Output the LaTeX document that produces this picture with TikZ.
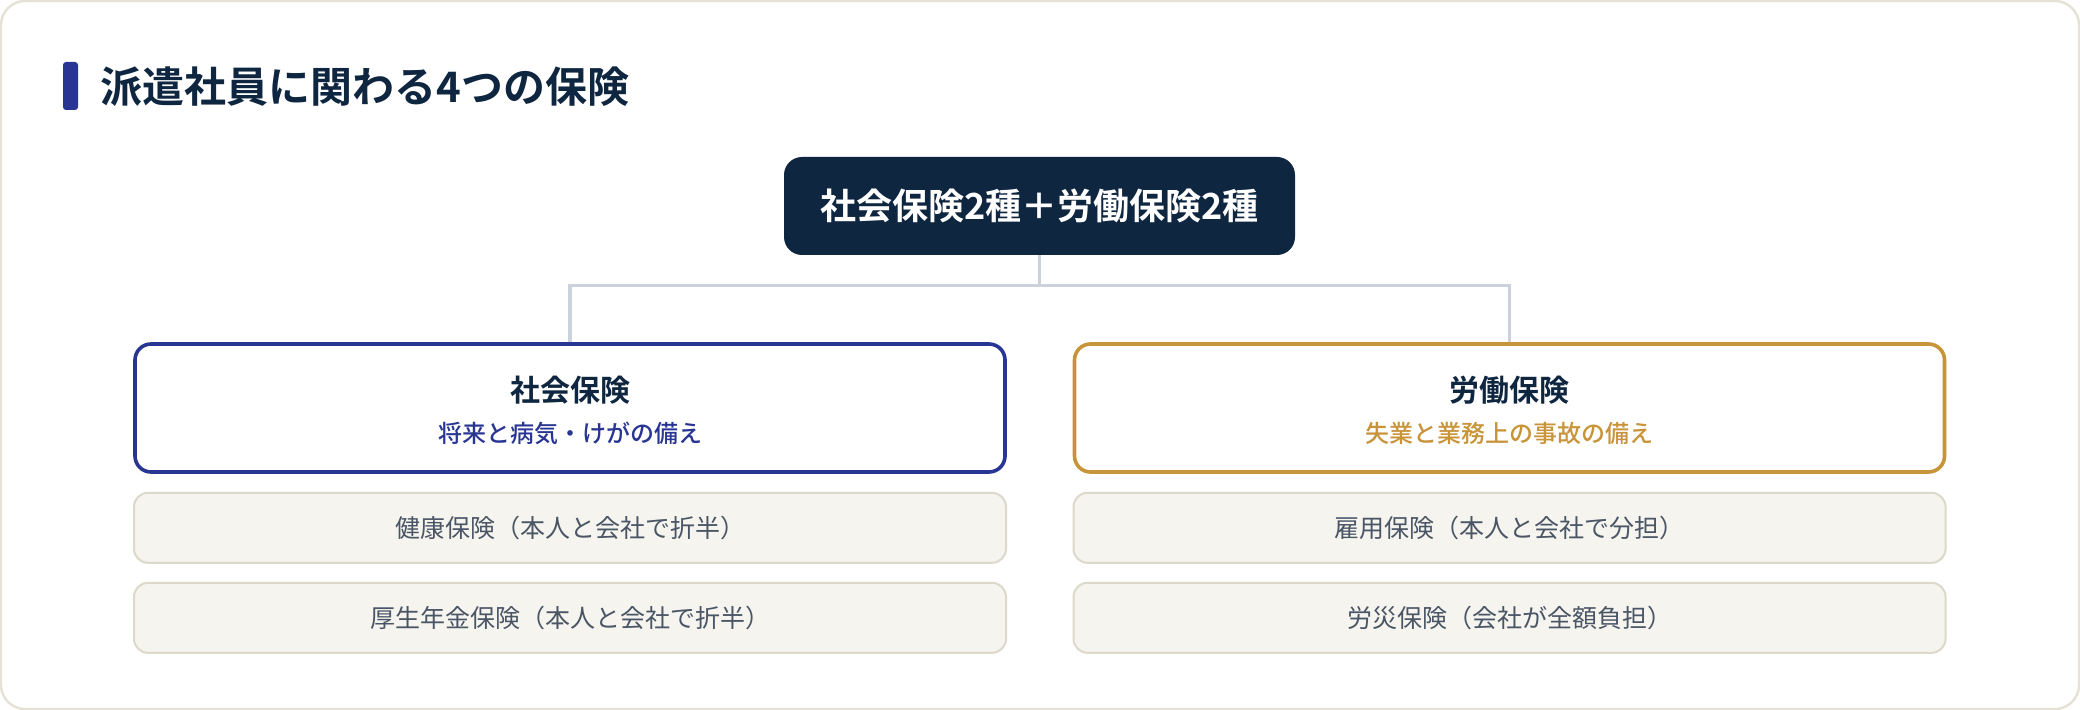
\documentclass[tikz,border=0pt]{standalone}
\usepackage{fontspec}
\setmainfont{Noto Sans CJK JP}[BoldFont={Noto Sans CJK JP Bold}]
\newfontfamily\medjp{Noto Sans CJK JP Medium}
\usetikzlibrary{positioning}

\definecolor{navy}{HTML}{0F2640}
\definecolor{indigo}{HTML}{283593}
\definecolor{gold}{HTML}{C8943A}
\definecolor{itemfill}{HTML}{F5F4EE}
\definecolor{itemline}{HTML}{DCD9CA}
\definecolor{itemtext}{HTML}{4A5565}
\definecolor{linkgray}{HTML}{CBD2DC}
\definecolor{framegray}{HTML}{E5E2D5}

\tikzset{
  headbox/.style={fill=navy, rounded corners=9pt, minimum width=255.5pt, minimum height=49pt, inner sep=0pt, text=white, font=\bfseries\fontsize{18pt}{22pt}\selectfont},
  groupbox/.style={draw=#1, line width=1.8pt, fill=white, rounded corners=8pt, minimum width=435pt, minimum height=64pt, inner sep=0pt},
  grouptitle/.style={inner sep=0pt, text=navy, font=\bfseries\fontsize{15pt}{18pt}\selectfont},
  groupsub/.style={inner sep=0pt, text=#1, font=\medjp\fontsize{12pt}{15pt}\selectfont},
  itembox/.style={draw=itemline, line width=1pt, fill=itemfill, rounded corners=7pt, minimum width=436pt, minimum height=35pt, inner sep=0pt, text=itemtext, font=\fontsize{12.5pt}{15pt}\selectfont},
  link/.style={draw=linkgray, line width=1.8pt}
}

\begin{document}
\begin{tikzpicture}[x=0.5pt, y=-0.5pt]
  \useasboundingbox (0,0) rectangle (2080,710);
  \draw[framegray, line width=1.2pt, rounded corners=12pt, fill=white] (1,1) rectangle (2079,709);

  % heading
  \fill[indigo, rounded corners=1.5pt] (63,62) rectangle (78,110);
  \node[anchor=west, inner sep=0pt, text=navy, font=\bfseries\fontsize{21pt}{25pt}\selectfont] (heading) at (100,87) {派遣社員に関わる4つの保険};

  \node[headbox] (top) at (1039.5,206) {社会保険2種＋労働保険2種};

  % two groups
  \node[groupbox=indigo] (shakai) at (570,408) {};
  \node[grouptitle] (shakaiT) at ([yshift=9pt]shakai.center) {社会保険};
  \node[groupsub=indigo] (shakaiS) at ([yshift=-12.5pt]shakai.center) {将来と病気・けがの備え};

  \node[groupbox=gold] (roudou) at (1509.5,408) {};
  \node[grouptitle] (roudouT) at ([yshift=9pt]roudou.center) {労働保険};
  \node[groupsub=gold] (roudouS) at ([yshift=-12.5pt]roudou.center) {失業と業務上の事故の備え};

  % items
  \node[itembox, below=9pt of shakai] (kenko) {健康保険（本人と会社で折半）};
  \node[itembox, below=9pt of kenko] (kosei) {厚生年金保険（本人と会社で折半）};
  \node[itembox, below=9pt of roudou] (koyo) {雇用保険（本人と会社で分担）};
  \node[itembox, below=9pt of koyo] (rousai) {労災保険（会社が全額負担）};

  \draw[link] (top.south) -- ++(0,30) coordinate (hub);
  \draw[link] (shakai.north) |- (hub) -| (roudou.north);
\end{tikzpicture}
\end{document}
